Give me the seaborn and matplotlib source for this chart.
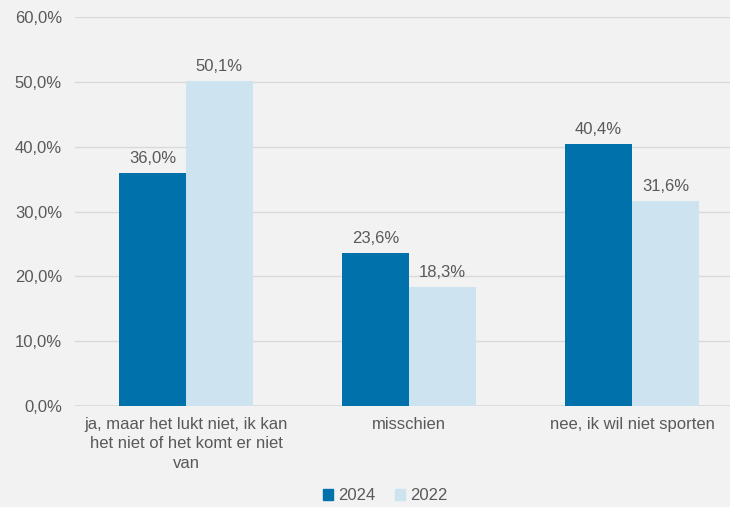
import pandas as pd
import matplotlib
matplotlib.use('Agg')
import matplotlib.pyplot as plt
import seaborn as sns

categories = ['ja, maar het lukt niet, ik kan\nhet niet of het komt er niet\nvan',
              'misschien',
              'nee, ik wil niet sporten']
years = ['2024', '2022']
values_2024 = [36.0, 23.6, 40.4]
values_2022 = [50.1, 18.3, 31.6]
yticks = [0, 10, 20, 30, 40, 50, 60]

colors = {'2024': '#0071ab', '2022': '#cde4f0'}
text_col = '#595959'
bg = '#f2f2f2'

df = pd.DataFrame({
    'category': categories * 2,
    'year': ['2024'] * 3 + ['2022'] * 3,
    'value': values_2024 + values_2022,
})

sns.set_style('white')
plt.rcParams['font.family'] = ['Liberation Sans', 'DejaVu Sans']

fig = plt.figure(figsize=(7.3, 5.07), dpi=100, facecolor=bg)
ax = fig.add_axes([74.5 / 730, 101 / 507, 669 / 730, 389 / 507])
ax.set_facecolor(bg)

sns.barplot(data=df, x='category', y='value', hue='year', hue_order=years,
            palette=colors, width=0.6, ax=ax, saturation=1, legend=True,
            linewidth=0, edgecolor='none')

for cont in ax.containers:
    ax.bar_label(cont, labels=[f'{v:.1f}%'.replace('.', ',') for v in cont.datavalues],
                 padding=5, fontsize=12, color=text_col)

ax.set_ylim(0, 60)
ax.set_xlim(-0.5, 2.5)
ax.set_yticks(yticks)
ax.set_yticklabels([f'{t:.1f}%'.replace('.', ',') for t in yticks])
ax.yaxis.grid(True, color='#d9d9d9', linewidth=1)
ax.set_axisbelow(True)
for s in ax.spines.values():
    s.set_visible(False)
ax.axhline(0, color='#d9d9d9', linewidth=1.2, zorder=0.5)
ax.tick_params(axis='both', length=0, labelsize=12, labelcolor=text_col)
ax.tick_params(axis='y', pad=9)
ax.tick_params(axis='x', pad=8)
for lbl in ax.get_xticklabels():
    lbl.set_linespacing(1.35)
ax.set_xlabel('')
ax.set_ylabel('')

ax.get_legend().remove()
handles = [plt.Rectangle((0, 0), 1, 1, color=colors[y]) for y in years]
fig.legend(handles, years, loc='center', bbox_to_anchor=(385 / 730, 1 - 496 / 507),
           ncol=2, frameon=False, fontsize=12, labelcolor=text_col,
           handlelength=0.6, handleheight=0.6, handletextpad=0.3, columnspacing=1.2)

fig.savefig('out.png', dpi=100, facecolor=bg)
